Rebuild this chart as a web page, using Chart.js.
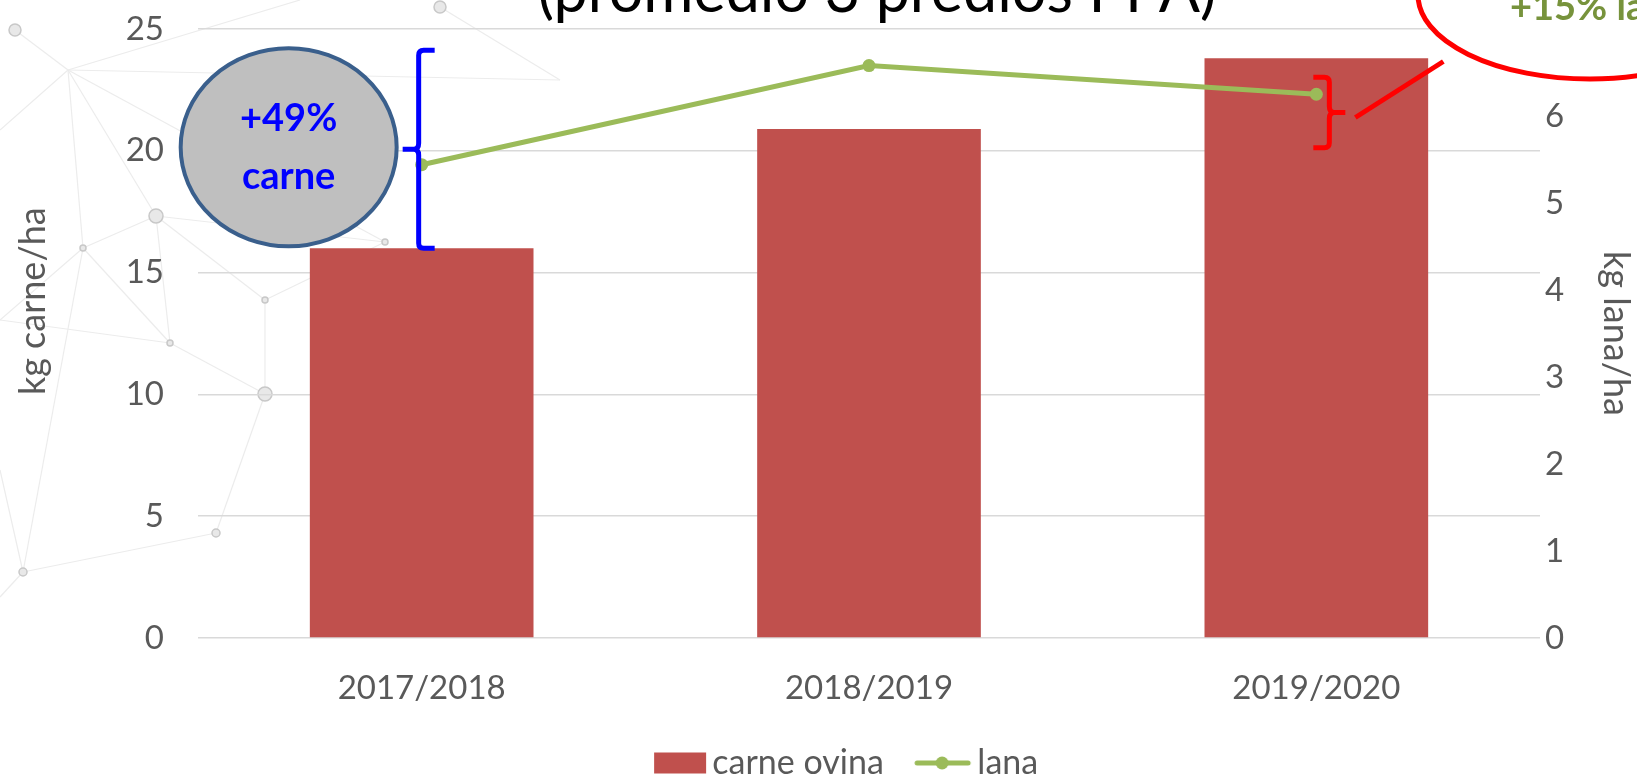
<!DOCTYPE html>
<html>
<head>
<meta charset="utf-8">
<script src="https://cdn.jsdelivr.net/npm/chart.js@4/dist/chart.umd.min.js"></script>
<style>
  html, body { margin: 0; padding: 0; background: #fff; }
  #wrap { width: 1637px; height: 776px; position: relative; }
</style>
</head>
<body>
<div id="wrap"><canvas id="chart"></canvas></div>
<script>
// data
const categories = ["2017/2018", "2018/2019", "2019/2020"];
const carneOvina = [16.0, 20.9, 23.8];   // kg carne/ha (left axis)
const lana = [5.44, 6.58, 6.25];         // kg lana/ha (right axis)
const titleText = "(promedio 3 predios PPA)";
const carneNote = ["+49%", "carne"];
const lanaNote = "+15% lana";

const barColor = "#C0504D";
const lineColor = "#9BBB59";
const textGrey = "#595959";
const PLOT = { left: 198, right: 1540, top: 29, bottom: 638 };
const LEG_SHIFT = 30; // legend sits a bit right of centre

Chart.defaults.font.family = "Lato";

// legend symbols (bar box / line with dot), drawn into small canvases
function legendImg(kind) {
  const c = document.createElement("canvas");
  c.width = 90; c.height = 24;
  const g = c.getContext("2d");
  if (kind === "bar") {
    g.fillStyle = barColor;
    g.fillRect(37, 1.5, 52, 21);
  } else {
    g.strokeStyle = lineColor;
    g.lineWidth = 5;
    g.lineCap = "round";
    g.beginPath(); g.moveTo(35, 12); g.lineTo(86, 12); g.stroke();
    g.fillStyle = lineColor;
    g.beginPath(); g.arc(60, 12, 6.5, 0, Math.PI * 2); g.fill();
  }
  return c;
}

// faint network pattern behind the chart
const netNodes = [[15,30,6],[68,70,0],[156,216,7],[265,394,7],[23,572,4],[216,533,4],[440,7,6],
  [385,242,3],[83,248,3],[170,343,3],[265,300,3],[0,597,0],[0,130,0],[300,0,0],[0,320,0],[560,80,0],[0,470,0]];
const netEdges = [[0,1],[1,2],[1,8],[1,7],[1,13],[1,12],[1,15],[2,8],[2,10],[2,9],[8,9],[9,3],[10,3],[10,7],
  [3,5],[5,4],[4,11],[8,4],[8,14],[2,7],[6,15],[4,16],[9,14]];

const bgPlugin = {
  id: "bg",
  beforeDraw(chart) {
    const ctx = chart.ctx;
    ctx.save();
    ctx.fillStyle = "#fff";
    ctx.fillRect(0, 0, chart.width, chart.height);
    ctx.strokeStyle = "#ECECEC";
    ctx.lineWidth = 1.2;
    netEdges.forEach(([a, b]) => {
      ctx.beginPath();
      ctx.moveTo(netNodes[a][0], netNodes[a][1]);
      ctx.lineTo(netNodes[b][0], netNodes[b][1]);
      ctx.stroke();
    });
    netNodes.forEach(([x, y, r]) => {
      if (!r) return;
      ctx.beginPath();
      ctx.arc(x, y, r, 0, Math.PI * 2);
      ctx.fillStyle = "#E8E8E8";
      ctx.fill();
      ctx.strokeStyle = "#C8C8C8";
      ctx.lineWidth = 1.5;
      ctx.stroke();
    });
    ctx.restore();
  }
};

function brace(ctx, x, top, bottom, dir, color) {
  // dir = 1: opening brace (hooks right, tip left); dir = -1: closing
  const mid = (top + bottom) / 2, h = 16 * dir, r = 5 * dir, t = 16 * dir;
  ctx.save();
  ctx.strokeStyle = color;
  ctx.lineWidth = 5;
  ctx.lineJoin = "round";
  ctx.beginPath();
  ctx.moveTo(x + h, top);
  ctx.lineTo(x + r, top);
  ctx.quadraticCurveTo(x, top, x, top + 5);
  ctx.lineTo(x, mid - 6);
  ctx.quadraticCurveTo(x, mid, x - r, mid);
  ctx.lineTo(x - t, mid);
  ctx.moveTo(x - r, mid);
  ctx.quadraticCurveTo(x, mid, x, mid + 6);
  ctx.lineTo(x, bottom - 5);
  ctx.quadraticCurveTo(x, bottom, x + r, bottom);
  ctx.lineTo(x + h, bottom);
  ctx.stroke();
  ctx.restore();
}

const notesPlugin = {
  id: "notes",
  afterDraw(chart) {
    const ctx = chart.ctx;
    const xs = chart.scales.x, y = chart.scales.y, y1 = chart.scales.y1;

    // title, partly above the picture
    ctx.save();
    ctx.fillStyle = "#000";
    ctx.font = "61px Lato";
    ctx.textAlign = "center";
    ctx.textBaseline = "alphabetic";
    ctx.fillText(titleText, 877, 12);
    ctx.restore();

    // blue brace + grey circle for carne
    const bx = xs.getPixelForValue(0) - 3;
    const bTop = y.getPixelForValue(carneOvina[2]) - 8;
    const bBot = y.getPixelForValue(carneOvina[0]);
    brace(ctx, bx, bTop, bBot, 1, "#0000FF");
    const cx = bx - 130, cy = (bTop + bBot) / 2 - 2;
    ctx.save();
    ctx.beginPath();
    ctx.ellipse(cx, cy, 108, 99, 0, 0, Math.PI * 2);
    ctx.fillStyle = "#BFBFBF";
    ctx.fill();
    ctx.lineWidth = 4;
    ctx.strokeStyle = "#3A5F8C";
    ctx.stroke();
    ctx.fillStyle = "#0000FF";
    ctx.font = "bold 38px Lato";
    ctx.textAlign = "center";
    ctx.textBaseline = "middle";
    ctx.fillText(carneNote[0], cx, cy - 28);
    ctx.fillText(carneNote[1], cx, cy + 30);
    ctx.restore();

    // red brace, pointer and ellipse for lana
    const rx = xs.getPixelForValue(2) + 13;
    const rTop = y1.getPixelForValue(lana[2]) - 17;
    const rBot = y1.getPixelForValue(lana[0]) - 17;
    brace(ctx, rx, rTop, rBot, -1, "#FF0000");
    const rMid = (rTop + rBot) / 2;
    ctx.save();
    ctx.strokeStyle = "#FF0000";
    ctx.lineWidth = 5;
    ctx.beginPath();
    ctx.moveTo(rx + 26, rMid + 5);
    ctx.lineTo(rx + 114, rMid - 51);
    ctx.stroke();
    ctx.beginPath();
    ctx.ellipse(1590, -5, 172, 84, 0, 0, Math.PI * 2);
    ctx.fillStyle = "#fff";
    ctx.fill();
    ctx.stroke();
    ctx.fillStyle = "#77933C";
    ctx.font = "bold 38px Lato";
    ctx.textAlign = "left";
    ctx.textBaseline = "alphabetic";
    ctx.fillText(lanaNote, 1510, 20);
    ctx.restore();
  }
};

new Chart(document.getElementById("chart"), {
  data: {
    labels: categories,
    datasets: [
      {
        type: "line",
        label: "lana",
        data: lana,
        yAxisID: "y1",
        borderColor: lineColor,
        backgroundColor: lineColor,
        borderWidth: 5,
        pointRadius: 6.5,
        pointBorderWidth: 0,
        pointBackgroundColor: lineColor,
        tension: 0,
      },
      {
        type: "bar",
        label: "carne ovina",
        data: carneOvina,
        yAxisID: "y",
        backgroundColor: barColor,
        barPercentage: 0.5,
        categoryPercentage: 1.0,
      },
    ],
  },
  options: {
    responsive: true,
    maintainAspectRatio: false,
    devicePixelRatio: 1,
    animation: false,
    layout: { padding: { top: PLOT.top, left: LEG_SHIFT, right: 0, bottom: -14 } },
    plugins: {
      tooltip: { enabled: false },
      legend: {
        position: "bottom",
        labels: {
          color: textGrey,
          font: { size: 34 },
          usePointStyle: true,
          pointStyleWidth: 66.5,
          padding: 10,
          generateLabels() {
            return [
              { text: "carne ovina", pointStyle: legendImg("bar"), fontColor: textGrey, datasetIndex: 1, lineWidth: 0 },
              { text: "lana", pointStyle: legendImg("line"), fontColor: textGrey, datasetIndex: 0, lineWidth: 0 },
            ];
          },
        },
      },
    },
    scales: {
      x: {
        grid: { display: false },
        border: { display: false },
        ticks: { color: textGrey, font: { size: 33 }, padding: 23, maxRotation: 0 },
        afterFit(s) {
          const lg = s.chart.legend ? s.chart.legend.height : 0;
          s.height = s.chart.height + 14 - PLOT.bottom - lg;
        },
      },
      y: {
        position: "left",
        min: 0, max: 25,
        ticks: { stepSize: 5, color: textGrey, font: { size: 33 }, padding: 34 },
        grid: { color: "#D9D9D9", lineWidth: 1.5, drawTicks: false },
        border: { display: false },
        title: { display: true, text: "       kg carne/ha", color: textGrey, font: { size: 36 }, padding: { top: 12 - LEG_SHIFT, bottom: 0 } },
        afterFit(s) { s.width = PLOT.left - LEG_SHIFT; s.paddingTop = 0; s.paddingBottom = 0; },
      },
      y1: {
        position: "right",
        min: 0, max: 7,
        ticks: { stepSize: 1, color: textGrey, font: { size: 33 }, padding: 5 },
        grid: { drawOnChartArea: false, drawTicks: false },
        border: { display: false },
        title: { display: true, text: "kg lana/ha", color: textGrey, font: { size: 36 }, padding: { top: 0, bottom: 0 } },
        afterFit(s) { s.width = 1637 - PLOT.right; s.paddingTop = 0; s.paddingBottom = 0; },
      },
    },
  },
  plugins: [bgPlugin, notesPlugin],
});
</script>
</body>
</html>
